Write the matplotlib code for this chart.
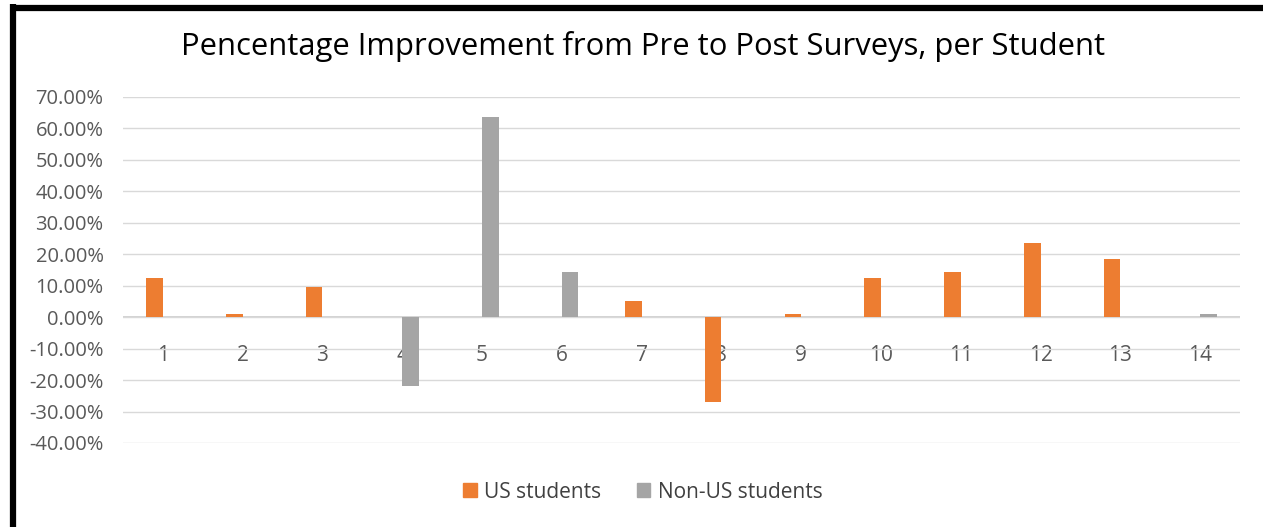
import matplotlib.pyplot as plt
import numpy as np
from matplotlib.ticker import FuncFormatter
from matplotlib.lines import Line2D
from matplotlib.patches import Patch

students = ['1', '2', '3', '4', '5', '6', '7', '8', '9', '10', '11', '12', '13', '14']
us_students = [12.5, 1.0, 9.6, 0, 0, 0, 5.2, -27.0, 1.0, 12.5, 14.3, 23.6, 18.5, 0]
non_us_students = [0, 0, 0, -21.8, 63.6, 14.3, 0, 0, 0, 0, 0, 0, 0, 1.0]

plt.rcParams['font.family'] = ['Open Sans', 'DejaVu Sans']

fig = plt.figure(figsize=(12.63, 5.27), dpi=100)
ax = fig.add_axes([123 / 1263, (527 - 443) / 527, (1240 - 123) / 1263, (443 - 97) / 527])

x = np.arange(len(students))
w = 0.207
ax.bar(x - w / 2, us_students, w, color='#ED7D31', label='US students', zorder=3)
ax.bar(x + w / 2, non_us_students, w, color='#A5A5A5', label='Non-US students', zorder=3)

ax.set_xlim(-0.5, len(students) - 0.5)
ax.set_ylim(-40, 70)
ax.set_yticks(np.arange(-40, 71, 10))
ax.yaxis.set_major_formatter(FuncFormatter(lambda v, p: '%.2f%%' % v))
ax.grid(axis='y', color='#d9d9d9', linewidth=1, zorder=0)
ax.axhline(0, color='#d0d0d0', linewidth=1.3, zorder=1)

ax.set_xticks(x)
ax.set_xticklabels(students)
for s in ax.spines.values():
    s.set_visible(False)
ax.spines['bottom'].set_position(('data', 0))
ax.tick_params(axis='x', length=0, pad=20, labelsize=15, labelcolor='#595959')
ax.tick_params(axis='y', length=0, pad=14, labelsize=14.5, labelcolor='#595959')

fig.text(0.509, 1 - 47 / 527, 'Pencentage Improvement from Pre to Post Surveys, per Student',
         ha='center', va='center', fontsize=22.3, color='#000000')

handles = [Patch(color='#ED7D31'), Patch(color='#A5A5A5')]
fig.legend(handles, ['US students', 'Non-US students'], loc='center',
           bbox_to_anchor=(0.509, 1 - 492 / 527), ncol=2, frameon=False,
           fontsize=15, handlelength=0.65, handleheight=0.65, handletextpad=0.35,
           columnspacing=1.7, labelcolor='#404040')

# thick black frame on left and top
fig.add_artist(Line2D([12.5 / 1263, 12.5 / 1263], [0, 1 - 4 / 527], color='black', linewidth=4.5,
                      transform=fig.transFigure, solid_capstyle='butt'))
fig.add_artist(Line2D([10 / 1263, 1], [1 - 7.5 / 527, 1 - 7.5 / 527], color='black', linewidth=4.5,
                      transform=fig.transFigure, solid_capstyle='butt'))

fig.savefig('out.png', dpi=100)
